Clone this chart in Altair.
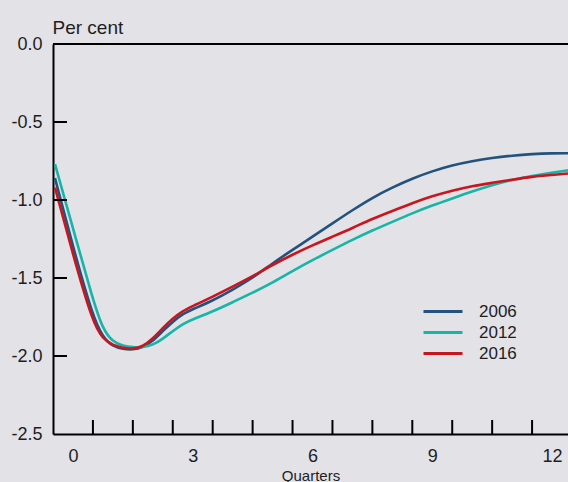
import altair as alt
import pandas as pd

# Quarters after the shock and the response of each vintage (per cent)
quarters = [-0.45, 0, 0.5, 0.75, 1, 1.25, 1.5, 1.75, 2, 2.25, 2.5, 2.75, 3, 3.5, 4, 4.5,
            5, 5.5, 6, 6.5, 7, 7.5, 8, 8.5, 9, 9.5, 10, 10.5, 11, 11.5, 12, 12.4]
resp_2006 = [-0.86, -1.30, -1.75, -1.88, -1.94, -1.955, -1.96, -1.945, -1.905, -1.84, -1.78,
             -1.73, -1.70, -1.645, -1.575, -1.50, -1.405, -1.32, -1.235, -1.15, -1.065, -0.985,
             -0.92, -0.862, -0.815, -0.777, -0.75, -0.73, -0.715, -0.705, -0.70, -0.70]
resp_2012 = [-0.77, -1.18, -1.64, -1.83, -1.91, -1.935, -1.945, -1.945, -1.93, -1.89, -1.84,
             -1.795, -1.765, -1.715, -1.655, -1.595, -1.53, -1.455, -1.385, -1.32, -1.255, -1.195,
             -1.14, -1.085, -1.035, -0.99, -0.945, -0.905, -0.87, -0.845, -0.825, -0.81]
resp_2016 = [-0.92, -1.35, -1.79, -1.89, -1.93, -1.95, -1.955, -1.94, -1.89, -1.82, -1.76,
             -1.71, -1.68, -1.62, -1.555, -1.49, -1.415, -1.35, -1.29, -1.235, -1.18, -1.12,
             -1.07, -1.02, -0.975, -0.94, -0.91, -0.89, -0.87, -0.85, -0.84, -0.83]

series_names = ["2006", "2012", "2016"]
series_colors = ["#22527d", "#16b5a8", "#c8161f"]

y_ticks = [-0.5, -1.0, -1.5, -2.0]
x_ticks = [0.5 + i for i in range(12)]
x_labels = [0, 3, 6, 9, 12]
y_labels = [0.0, -0.5, -1.0, -1.5, -2.0, -2.5]

W, H = 515, 390
FONT = "Liberation Sans"
INK = "#1e1e1e"

rows = []
for name, vals in zip(series_names, [resp_2006, resp_2012, resp_2016]):
    for q, v in zip(quarters, vals):
        rows.append({"quarter": q, "value": v, "vintage": name})
df = pd.DataFrame(rows)

xscale = alt.Scale(domain=[-0.5, 12.4], nice=False, zero=False)
yscale = alt.Scale(domain=[-2.5, 0.0], nice=False, zero=False)

lines = alt.Chart(df).mark_line(strokeWidth=2.6, interpolate="basis", clip=True).encode(
    x=alt.X("quarter:Q", scale=xscale,
            axis=alt.Axis(values=x_labels, ticks=False, grid=False, domain=True,
                          domainColor="black", domainWidth=2, labelFontSize=18,
                          labelFont=FONT, labelColor=INK, labelPadding=13,
                          title="Quarters", titleFont=FONT, titleFontSize=15,
                          titleFontWeight="normal", titleColor=INK, titlePadding=3)),
    y=alt.Y("value:Q", scale=yscale,
            axis=alt.Axis(values=y_labels, format=".1f",
                          labelExpr="replace(datum.label, '\u2212', '-')",
                          ticks=False, grid=False,
                          domain=True, domainColor="black", domainWidth=2,
                          labelFontSize=18, labelFont=FONT, labelColor=INK,
                          labelPadding=11, title="Per cent", titleAngle=0,
                          titleAlign="left", titleBaseline="bottom", titleX=-1,
                          titleY=-7, titleFont=FONT, titleFontSize=19,
                          titleFontWeight="normal", titleColor=INK)),
    color=alt.Color("vintage:N",
                    scale=alt.Scale(domain=series_names, range=series_colors),
                    legend=alt.Legend(title=None, orient="none", legendX=369,
                                      legendY=257, symbolType="stroke",
                                      symbolSize=1521, symbolStrokeWidth=3,
                                      clipHeight=21, rowPadding=0,
                                      labelFontSize=17, labelFont=FONT,
                                      labelColor=INK, labelOffset=15)),
)

ytick_layer = alt.Chart(pd.DataFrame({"v": y_ticks})).mark_rule(
    color="black", strokeWidth=2).encode(
    y=alt.Y("v:Q", scale=yscale), x=alt.value(0), x2=alt.value(14))

xtick_layer = alt.Chart(pd.DataFrame({"q": x_ticks})).mark_rule(
    color="black", strokeWidth=2).encode(
    x=alt.X("q:Q", scale=xscale), y=alt.value(H - 14), y2=alt.value(H))

top_border = alt.Chart(pd.DataFrame({"v": [0.0]})).mark_rule(
    color="black", strokeWidth=2).encode(
    y=alt.Y("v:Q", scale=yscale), x=alt.value(0), x2=alt.value(W))

chart = alt.layer(lines, ytick_layer, xtick_layer, top_border).properties(
    width=W, height=H,
    background="#e3e2e7",
    autosize=alt.AutoSizeParams(type="none"),
    padding={"left": 53, "top": 44, "right": 0, "bottom": 48},
).configure_view(stroke=None)

chart.save("out.html", embed_options={"renderer": "svg", "actions": False})
